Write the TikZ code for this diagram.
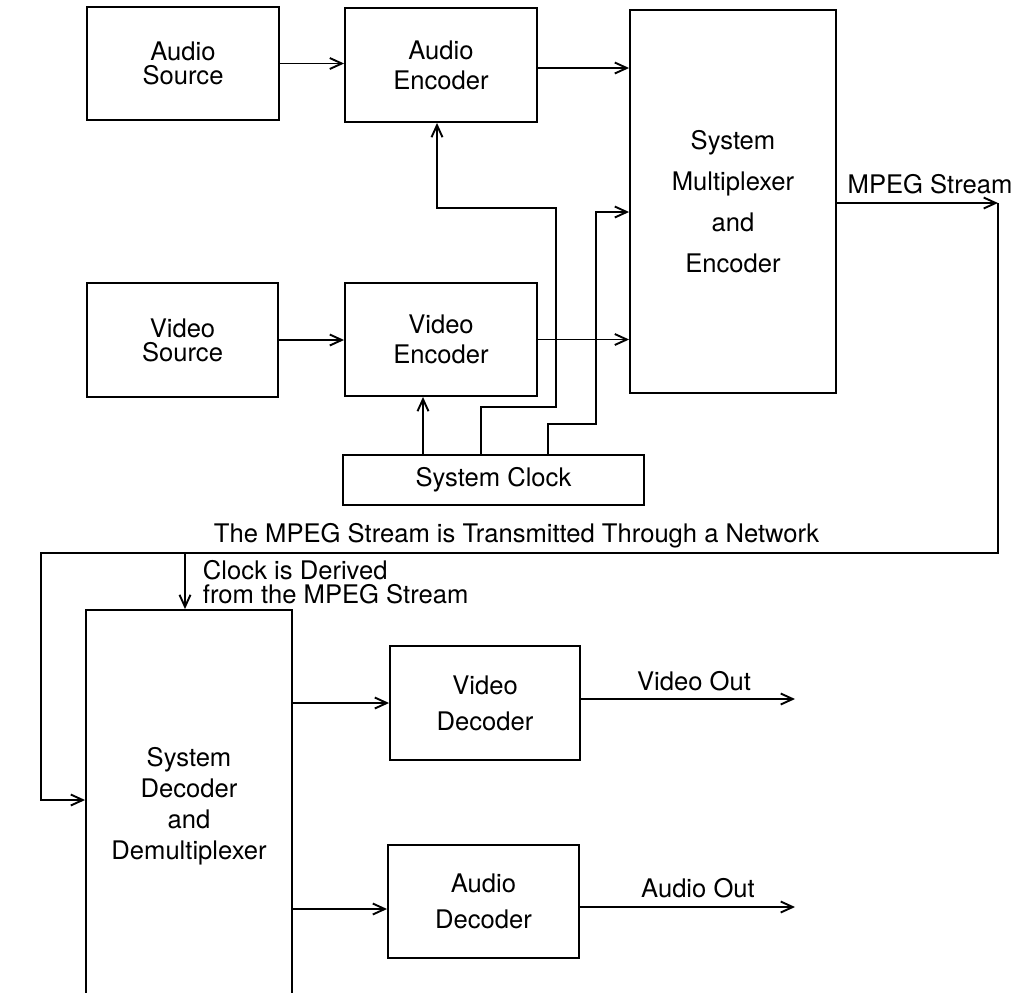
\documentclass[tikz,border=0pt]{standalone}
\usepackage{fontspec}
\setmainfont{TeX Gyre Heros}
\usepackage{tikz}
\usetikzlibrary{arrows.meta, calc}
\newcommand{\lbl}[1]{\fontsize{12.8}{#1}\selectfont}

\begin{document}
\begin{tikzpicture}[x=0.5pt, y=-0.5pt, >={Straight Barb[length=6pt,width=5.5pt]}, line width=0.95pt,
    blk/.style={draw, align=center, inner sep=0pt},
    txt/.style={inner sep=0pt, font=\lbl{15}}]
        \clip (0,0) rectangle (1018,992);
        % Sources and encoders
        \node[blk, minimum width=96pt, minimum height=56.5pt, font=\lbl{12}] (asrc) at (183,63.5) {Audio\\Source};
        \node[blk, minimum width=96pt, minimum height=57pt, font=\lbl{15}] (aenc) at (441,65) {Audio\\Encoder};
        \node[blk, minimum width=95.5pt, minimum height=57pt, font=\lbl{12}] (vsrc) at (182.5,340) {Video\\Source};
        \node[blk, minimum width=96pt, minimum height=56.5pt, font=\lbl{15}] (venc) at (441,339.5) {Video\\Encoder};
        \node[blk, minimum width=103pt, minimum height=191.5pt, font=\lbl{20.5}] (mux) at (733,201.5) {System\\Multiplexer\\and\\Encoder};
        \node[blk, minimum width=150.5pt, minimum height=25pt, font=\lbl{15}] (clk) at (493.5,480) {System Clock};
        \draw[->] (asrc.east) -- (asrc.east -| aenc.west);
        \draw[->] ([yshift=-1.5pt]aenc.east) -- ([yshift=-1.5pt]aenc.east -| mux.west);
        \draw[->] (vsrc.east) -- (vsrc.east -| venc.west);
        \draw[->] (venc.east) -- (venc.east -| mux.west);
        % Clock lines
        \draw[->] ([xshift=-35.25pt]clk.north) -- ([xshift=-35.25pt]clk.north |- venc.south);
        \draw[->] ([xshift=-6.25pt]clk.north) |- (556,407) |- (437,208) -- ([xshift=-2pt]aenc.south);
        \draw[->] ([xshift=27.25pt]clk.north) |- (596,424) |- ([yshift=-5.25pt]mux.west);
        % Decoders
        \node[blk, minimum width=103pt, minimum height=196pt, font=\lbl{15.5}] (demux) at (189,806) {System\\Decoder\\and\\Demultiplexer};
        \node[blk, minimum width=95pt, minimum height=57pt, font=\lbl{18}] (vdec) at (485,703) {Video\\Decoder};
        \node[blk, minimum width=95.5pt, minimum height=56.5pt, font=\lbl{18}] (adec) at (483.5,901.5) {Audio\\Decoder};
        % Network
        \draw[->] ([yshift=-0.75pt]mux.east) -- ++(161,0) coordinate (net1);
        \node[txt] (mpeg) at (930,184) {MPEG Stream};
        \draw[->] (net1) |- (41,553) coordinate (net2) |- ([yshift=3pt]demux.west);
        \node[txt, anchor=base west] (nettxt) at (213,542) {The MPEG Stream is Transmitted Through a Network};
        \node[txt, anchor=north west, align=left, font=\lbl{12}] (clkd) at (202,559) {Clock is Derived\\from the MPEG Stream};
        \draw[->] ([xshift=-2pt]demux.north |- net2) -- ([xshift=-2pt]demux.north);
        \draw[->] (vdec.west -| demux.east) -- (vdec.west);
        \draw[->] ([yshift=-3.75pt]adec.west -| demux.east) -- ([yshift=-3.75pt]adec.west);
        \coordinate (vout) at (795,699);
        \draw[->] (vdec.east |- vout) -- (vout);
        \node[txt] (voutl) at (694,681) {Video Out};
        \coordinate (aout) at (795,907);
        \draw[->] (adec.east |- aout) -- (aout);
        \node[txt] (aoutl) at (698,888) {Audio Out};
    \end{tikzpicture}
\end{document}
